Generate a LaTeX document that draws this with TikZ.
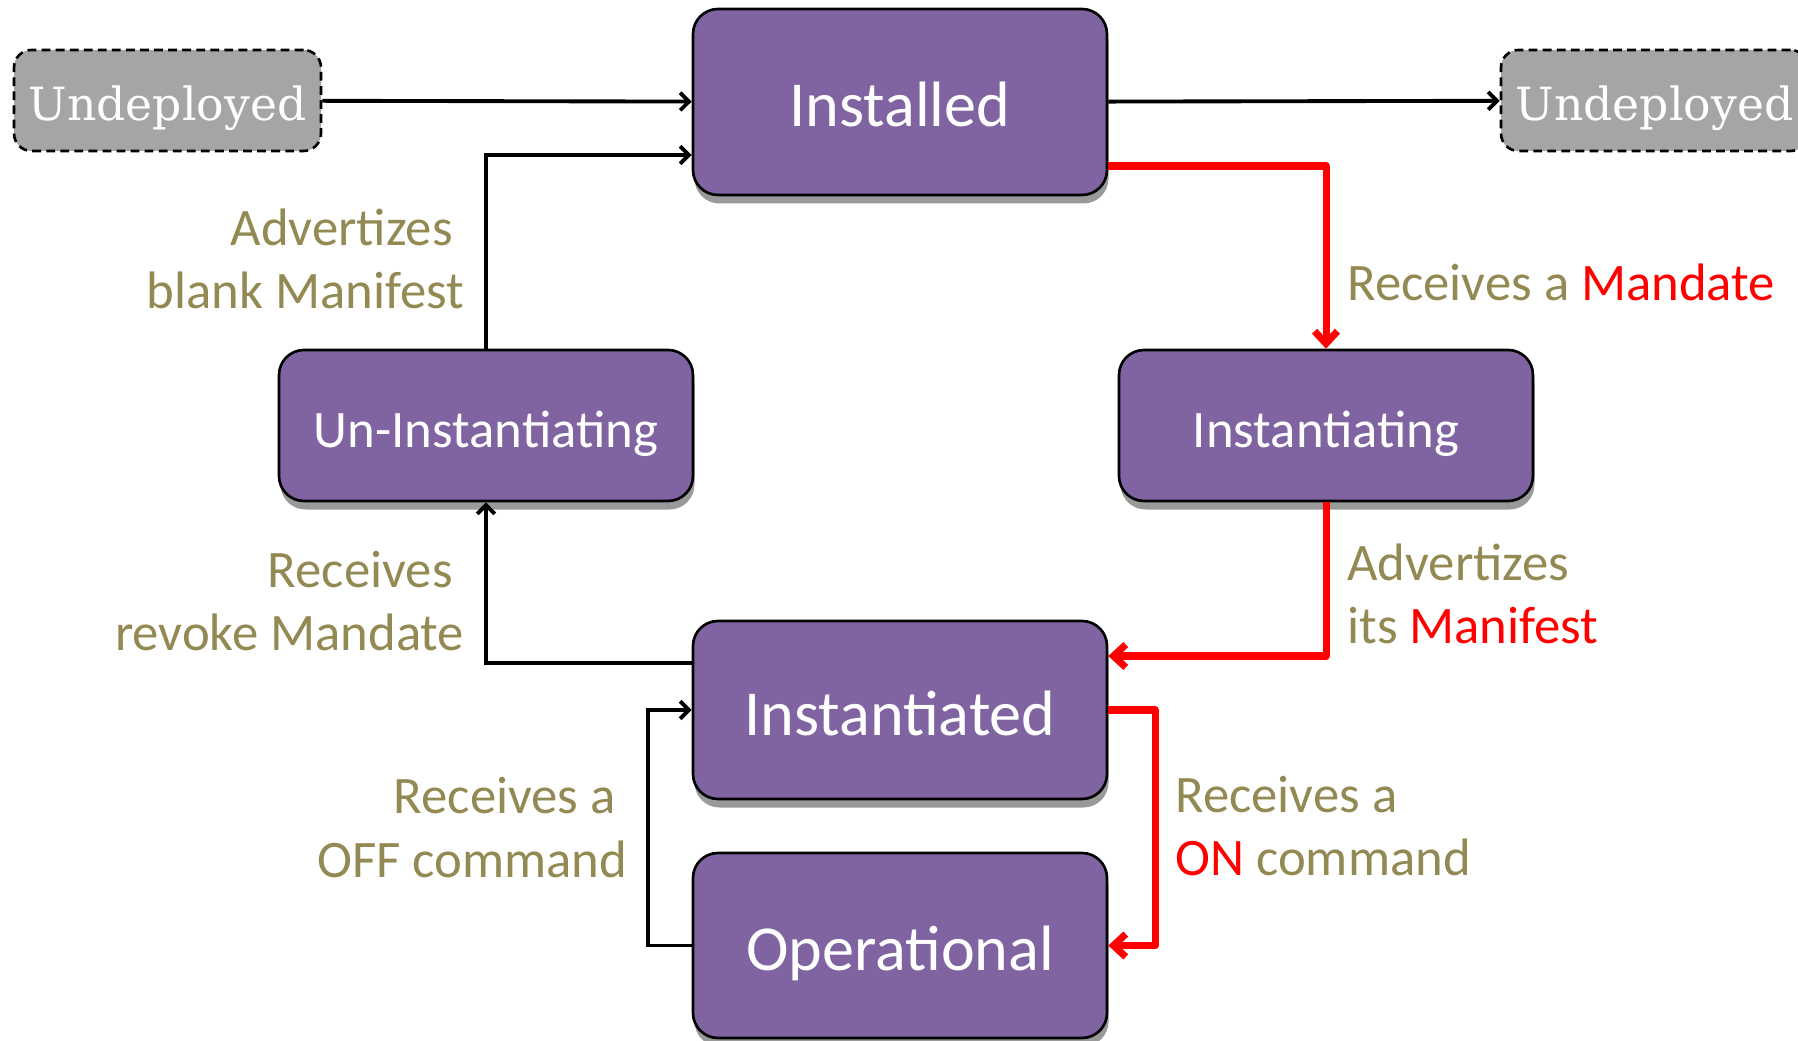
\documentclass[tikz,border=0pt]{standalone}
\usepackage{fontspec}
\setmainfont{Carlito}
\newfontfamily\slabfont{DejaVu Serif}
\usetikzlibrary{arrows.meta}
\usetikzlibrary{shadows}
\definecolor{statefill}{HTML}{8064A2}
\definecolor{notetext}{HTML}{938953}
\definecolor{hotred}{HTML}{FF0000}
\definecolor{undepfill}{HTML}{A5A5A5}

\begin{document}
\begin{tikzpicture}[
    state/.style={draw=black, line width=1.5pt, fill=statefill, rounded corners=0.5cm, text=white,
      minimum width=8.28cm, drop shadow={shadow xshift=0.03cm, shadow yshift=-0.17cm, fill=black!40, opacity=1}},
    bigstate/.style={state, font=\fontsize{36.5}{42}\selectfont, text height=1cm, text depth=0cm},
    smallstate/.style={state, font=\fontsize{30}{36}\selectfont, text height=0.88cm, text depth=0cm, minimum height=3.02cm},
    undep/.style={draw=black, dashed, dash pattern=on 5pt off 3pt, line width=1.5pt, fill=undepfill,
      rounded corners=0.35cm, text=white, font=\slabfont\fontsize{26}{30}\selectfont,
      text height=0.82cm, text depth=0cm, minimum width=6.14cm, minimum height=2.02cm},
    flow/.style={line width=2.2pt, -{Straight Barb[length=5pt,width=10pt]}},
    hotflow/.style={line width=4pt, draw=hotred, line join=round, -{Straight Barb[length=7pt,width=13pt]}},
    note/.style={text=notetext, font=\fontsize{30}{36}\selectfont, inner sep=0pt}
  ]
    \useasboundingbox (0,0) rectangle (35.96,-20.82);  %page

    \node[undep] (undepL) at (3.35,-2.01) {Undeployed};
    \node[undep] (undepR) at (33.09,-2.01) {Undeployed};
    \node[bigstate, minimum height=3.72cm] (installed) at (18,-2.04) {Installed};
    \node[smallstate] (uninst) at (9.72,-8.51) {Un-Instantiating};
    \node[smallstate] (instantiating) at (26.52,-8.51) {Instantiating};
    \node[bigstate, minimum height=3.56cm] (instantiated) at (18,-14.2) {Instantiated};
    \node[bigstate, minimum height=3.7cm] (operational) at (18,-18.91) {Operational};

    % deploy / undeploy
    \draw[flow] (undepL) -- (installed);
    \draw[flow] (installed) -- (undepR);
    % main cycle
    \draw[hotflow] ([yshift=-1.28cm]installed.east) -| (instantiating.north);
    \draw[hotflow] (instantiating.south) |- ([yshift=1.08cm]instantiated.east);
    \draw[flow] ([yshift=0.94cm]instantiated.west) -| (uninst.south);
    \draw[flow] (uninst.north) |- ([yshift=-1.06cm]installed.west);
    % on / off
    \draw[hotflow] (instantiated.east) -- ++(0.94,0) |- (operational.east);
    \draw[flow] (operational.west) -- ++(-0.88,0) |- (instantiated.west);

    % labels
    \node[note, anchor=east, align=right] (advblank) at (9.29,-5.18) {Advertizes\hspace*{0.23cm}\\blank Manifest};
    \node[note, anchor=west, align=left] (recmand) at (26.94,-5.64) {Receives a \textcolor{hotred}{Mandate}};
    \node[note, anchor=west, align=left] (advits) at (26.94,-11.88) {Advertizes\\its \textcolor{hotred}{Manifest}};
    \node[note, anchor=east, align=right] (recrevoke) at (9.29,-12.02) {Receives\hspace*{0.23cm}\\revoke Mandate};
    \node[note, anchor=east, align=right] (recoff) at (12.55,-16.55) {Receives a\hspace*{0.23cm}\\OFF command};
    \node[note, anchor=west, align=left] (recon) at (23.5,-16.52) {Receives a\\\textcolor{hotred}{ON} command};
\end{tikzpicture}
\end{document}
